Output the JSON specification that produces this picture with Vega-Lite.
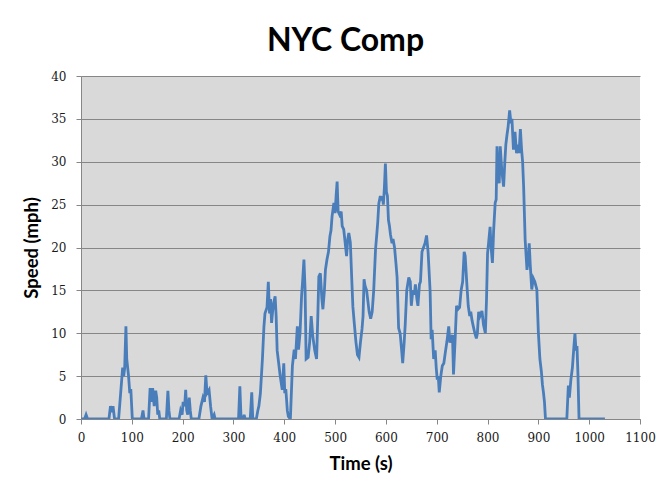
{
  "$schema": "https://vega.github.io/schema/vega-lite/v6.json",
  "width": 559,
  "height": 343,
  "autosize": {"type": "none"},
  "padding": {"left": 81, "top": 76, "right": 23, "bottom": 85},
  "background": "white",
  "title": {
    "text": "NYC Comp",
    "font": "Lato",
    "fontSize": 32,
    "fontWeight": "bold",
    "color": "#000000",
    "frame": "group",
    "anchor": "middle",
    "baseline": "alphabetic",
    "offset": -13,
    "dx": -15
  },
  "config": {
    "view": {"fill": "#D9D9D9", "stroke": null},
    "axis": {
      "labelFont": "DejaVu Serif",
      "labelFontSize": 12,
      "labelColor": "#1a1a1a",
      "titleFont": "Lato",
      "titleFontSize": 18.5,
      "titleFontWeight": "bold",
      "titleColor": "#000000",
      "domainColor": "#868686",
      "tickColor": "#868686",
      "gridColor": "#868686",
      "gridOpacity": 1,
      "domainWidth": 1,
      "tickWidth": 1,
      "gridWidth": 1,
      "tickSize": 5
    }
  },
  "data": {
    "values": [
      {"t": 0, "v": 0}, {"t": 7, "v": 0}, {"t": 10, "v": 0.5}, {"t": 13, "v": 0},
      {"t": 55, "v": 0}, {"t": 58, "v": 1.5}, {"t": 61, "v": 0.8}, {"t": 63, "v": 1.5}, {"t": 66, "v": 0},
      {"t": 74, "v": 0}, {"t": 78, "v": 3}, {"t": 80, "v": 4.5}, {"t": 82, "v": 6}, {"t": 84, "v": 5},
      {"t": 86, "v": 6}, {"t": 88.4, "v": 10.8}, {"t": 90, "v": 7}, {"t": 93.6, "v": 5}, {"t": 96, "v": 3},
      {"t": 98, "v": 3.5}, {"t": 101, "v": 0}, {"t": 119, "v": 0}, {"t": 122, "v": 1}, {"t": 124, "v": 0},
      {"t": 133, "v": 0}, {"t": 136, "v": 3.6}, {"t": 138, "v": 2}, {"t": 141, "v": 3.6}, {"t": 144, "v": 1.5},
      {"t": 147, "v": 3.3}, {"t": 149, "v": 2.5}, {"t": 151, "v": 0.5}, {"t": 153, "v": 1}, {"t": 155, "v": 0},
      {"t": 168, "v": 0}, {"t": 171, "v": 3.3}, {"t": 173, "v": 1}, {"t": 175, "v": 0},
      {"t": 193, "v": 0}, {"t": 196, "v": 1}, {"t": 199, "v": 0.5}, {"t": 201, "v": 2}, {"t": 204, "v": 1.5},
      {"t": 206, "v": 3.4}, {"t": 208, "v": 1}, {"t": 210, "v": 0.5}, {"t": 213, "v": 2.5}, {"t": 215, "v": 1},
      {"t": 217, "v": 0}, {"t": 232, "v": 0}, {"t": 236, "v": 1.5}, {"t": 240, "v": 2.5}, {"t": 243, "v": 2},
      {"t": 245.6, "v": 5.1}, {"t": 248, "v": 3}, {"t": 252, "v": 3.4}, {"t": 255, "v": 1.5}, {"t": 258, "v": 0},
      {"t": 262, "v": 0.5}, {"t": 264, "v": 0}, {"t": 310, "v": 0}, {"t": 312.6, "v": 3.8}, {"t": 315, "v": 0},
      {"t": 319, "v": 0}, {"t": 321, "v": 0.5}, {"t": 323, "v": 0}, {"t": 333, "v": 0}, {"t": 336, "v": 3.1},
      {"t": 338, "v": 0}, {"t": 345, "v": 0}, {"t": 348, "v": 1}, {"t": 350, "v": 1.5}, {"t": 353, "v": 3},
      {"t": 357, "v": 7}, {"t": 360, "v": 10.8}, {"t": 362, "v": 12.3}, {"t": 366, "v": 13}, {"t": 368.6, "v": 16},
      {"t": 371, "v": 12.3}, {"t": 373, "v": 14}, {"t": 375, "v": 11.2}, {"t": 377, "v": 12.5}, {"t": 379, "v": 13.5},
      {"t": 382, "v": 14.3}, {"t": 384, "v": 12}, {"t": 386, "v": 8}, {"t": 389, "v": 6.5}, {"t": 392, "v": 5},
      {"t": 396, "v": 3.4}, {"t": 399, "v": 6.5}, {"t": 401, "v": 3}, {"t": 403, "v": 3.5}, {"t": 406, "v": 1},
      {"t": 408, "v": 0.3}, {"t": 412, "v": 0}, {"t": 416, "v": 6.2}, {"t": 419.5, "v": 8.1}, {"t": 422, "v": 7},
      {"t": 425.7, "v": 10.8}, {"t": 428, "v": 8.1}, {"t": 431, "v": 10}, {"t": 434, "v": 14.3}, {"t": 436, "v": 16},
      {"t": 438.7, "v": 18.6}, {"t": 441, "v": 15}, {"t": 443, "v": 7}, {"t": 447, "v": 7.2}, {"t": 450, "v": 9},
      {"t": 453, "v": 12}, {"t": 456, "v": 9.7}, {"t": 460, "v": 8}, {"t": 463.6, "v": 7}, {"t": 466, "v": 12},
      {"t": 468, "v": 16.6}, {"t": 471, "v": 17}, {"t": 474, "v": 14}, {"t": 476, "v": 12.8}, {"t": 479, "v": 15},
      {"t": 481, "v": 17.4}, {"t": 484, "v": 18.6}, {"t": 487, "v": 19.5}, {"t": 489.8, "v": 21.3}, {"t": 492, "v": 22},
      {"t": 494, "v": 23.6}, {"t": 497.6, "v": 25.2}, {"t": 500, "v": 24}, {"t": 502, "v": 26}, {"t": 504, "v": 27.7},
      {"t": 506, "v": 24.2}, {"t": 509, "v": 23.8}, {"t": 512, "v": 24.2}, {"t": 514, "v": 22.5}, {"t": 517, "v": 22.1},
      {"t": 519, "v": 21}, {"t": 522.6, "v": 19}, {"t": 525, "v": 21}, {"t": 527, "v": 21.7}, {"t": 530, "v": 20.6},
      {"t": 533, "v": 16}, {"t": 535, "v": 13.1}, {"t": 538, "v": 11}, {"t": 541, "v": 9}, {"t": 544, "v": 7.5},
      {"t": 547, "v": 7.2}, {"t": 550, "v": 9}, {"t": 553, "v": 10.5}, {"t": 555, "v": 12}, {"t": 557, "v": 16.3},
      {"t": 559, "v": 15.5}, {"t": 562, "v": 15}, {"t": 564, "v": 14}, {"t": 567, "v": 12.5}, {"t": 570, "v": 11.7},
      {"t": 573, "v": 12.5}, {"t": 576, "v": 15}, {"t": 579.6, "v": 19.8}, {"t": 582, "v": 21.5}, {"t": 584, "v": 23},
      {"t": 586, "v": 25.1}, {"t": 589, "v": 26}, {"t": 591, "v": 25.5}, {"t": 593, "v": 26}, {"t": 595, "v": 25},
      {"t": 597, "v": 27}, {"t": 599, "v": 29.8}, {"t": 601, "v": 26.5}, {"t": 603, "v": 26}, {"t": 605, "v": 23.2},
      {"t": 607, "v": 22.5}, {"t": 609, "v": 21.5}, {"t": 612, "v": 20.5}, {"t": 614, "v": 21}, {"t": 617, "v": 20},
      {"t": 620, "v": 18}, {"t": 622, "v": 16.5}, {"t": 625, "v": 10.6}, {"t": 628, "v": 10}, {"t": 631, "v": 8},
      {"t": 633, "v": 6.5}, {"t": 636, "v": 9}, {"t": 638, "v": 11}, {"t": 641, "v": 15}, {"t": 645, "v": 16.5},
      {"t": 648, "v": 16}, {"t": 650, "v": 13.2}, {"t": 653, "v": 15}, {"t": 656, "v": 14.5}, {"t": 658, "v": 15.7},
      {"t": 661, "v": 14}, {"t": 663, "v": 13.2}, {"t": 666, "v": 15.7}, {"t": 668, "v": 16}, {"t": 671, "v": 19.5},
      {"t": 674, "v": 20}, {"t": 677, "v": 20.5}, {"t": 680, "v": 21.4}, {"t": 683, "v": 19.5}, {"t": 687, "v": 14.9},
      {"t": 689, "v": 9.3}, {"t": 691, "v": 10.4}, {"t": 694, "v": 7}, {"t": 697, "v": 8}, {"t": 699, "v": 6},
      {"t": 701, "v": 4.6}, {"t": 703, "v": 5}, {"t": 705, "v": 3.1}, {"t": 708, "v": 5}, {"t": 711, "v": 6.2},
      {"t": 714, "v": 6.5}, {"t": 717, "v": 7.8}, {"t": 720, "v": 9}, {"t": 723.6, "v": 10.8}, {"t": 726, "v": 8.9},
      {"t": 729, "v": 9.5}, {"t": 731, "v": 9.8}, {"t": 733, "v": 5.2}, {"t": 736, "v": 9}, {"t": 739, "v": 13.2},
      {"t": 742, "v": 12.8}, {"t": 745, "v": 13}, {"t": 748, "v": 15}, {"t": 751, "v": 16}, {"t": 754, "v": 19.5},
      {"t": 756, "v": 19}, {"t": 759, "v": 16}, {"t": 762, "v": 13.2}, {"t": 765, "v": 12}, {"t": 767, "v": 12.5},
      {"t": 769.5, "v": 11.5}, {"t": 772, "v": 10.8}, {"t": 775, "v": 10}, {"t": 778, "v": 9.4}, {"t": 780, "v": 10},
      {"t": 782.5, "v": 12.5}, {"t": 785, "v": 12}, {"t": 787, "v": 12.3}, {"t": 789, "v": 12.6}, {"t": 792, "v": 11},
      {"t": 795.7, "v": 10}, {"t": 798, "v": 14}, {"t": 800, "v": 19.3}, {"t": 802, "v": 20.5}, {"t": 805, "v": 22.4},
      {"t": 807, "v": 20}, {"t": 809.6, "v": 18.2}, {"t": 812, "v": 22}, {"t": 815, "v": 25.2}, {"t": 817, "v": 25.6},
      {"t": 818.6, "v": 31.8}, {"t": 821, "v": 28}, {"t": 823, "v": 27.5}, {"t": 825, "v": 31.8}, {"t": 828, "v": 29},
      {"t": 831.6, "v": 27.1}, {"t": 834, "v": 30}, {"t": 836, "v": 32}, {"t": 838, "v": 33}, {"t": 840.5, "v": 34.1},
      {"t": 843.5, "v": 36}, {"t": 846, "v": 34.5}, {"t": 848, "v": 35}, {"t": 851, "v": 31.4}, {"t": 854, "v": 33.5},
      {"t": 857, "v": 31}, {"t": 860, "v": 32}, {"t": 862, "v": 31}, {"t": 864.6, "v": 33.8}, {"t": 867, "v": 31.4},
      {"t": 869, "v": 30}, {"t": 871, "v": 27.1}, {"t": 874, "v": 20.9}, {"t": 877.6, "v": 17.4}, {"t": 880, "v": 18.5},
      {"t": 882, "v": 20.5}, {"t": 884, "v": 18}, {"t": 887, "v": 15.1}, {"t": 890, "v": 16.4}, {"t": 893, "v": 16},
      {"t": 897, "v": 15.1}, {"t": 900, "v": 10.1}, {"t": 903, "v": 7}, {"t": 906, "v": 5.5}, {"t": 908, "v": 4},
      {"t": 910, "v": 3.1}, {"t": 912, "v": 2}, {"t": 914, "v": 0}, {"t": 956, "v": 0}, {"t": 959, "v": 3.9},
      {"t": 961, "v": 2.5}, {"t": 964, "v": 4.6}, {"t": 967, "v": 6}, {"t": 970, "v": 8.5}, {"t": 972, "v": 10},
      {"t": 974, "v": 8}, {"t": 976, "v": 8.5}, {"t": 978, "v": 5}, {"t": 980, "v": 0}, {"t": 1031, "v": 0}
    ]
  },
  "mark": {"type": "line", "color": "#4A7EBB", "strokeWidth": 2.8, "clip": true},
  "encoding": {
    "x": {
      "field": "t",
      "type": "quantitative",
      "title": "Time (s)",
      "scale": {"domain": [0, 1100], "nice": false},
      "axis": {
        "values": [0, 100, 200, 300, 400, 500, 600, 700, 800, 900, 1000, 1100],
        "format": "d",
        "grid": false,
        "labelPadding": 8,
        "titlePadding": 11,
        "labelFlush": false
      }
    },
    "y": {
      "field": "v",
      "type": "quantitative",
      "title": "Speed (mph)",
      "scale": {"domain": [0, 40], "nice": false},
      "axis": {
        "values": [0, 5, 10, 15, 20, 25, 30, 35, 40],
        "format": "d",
        "grid": true,
        "labelPadding": 10,
        "titlePadding": 9,
        "labelFlush": false
      }
    }
  }
}
